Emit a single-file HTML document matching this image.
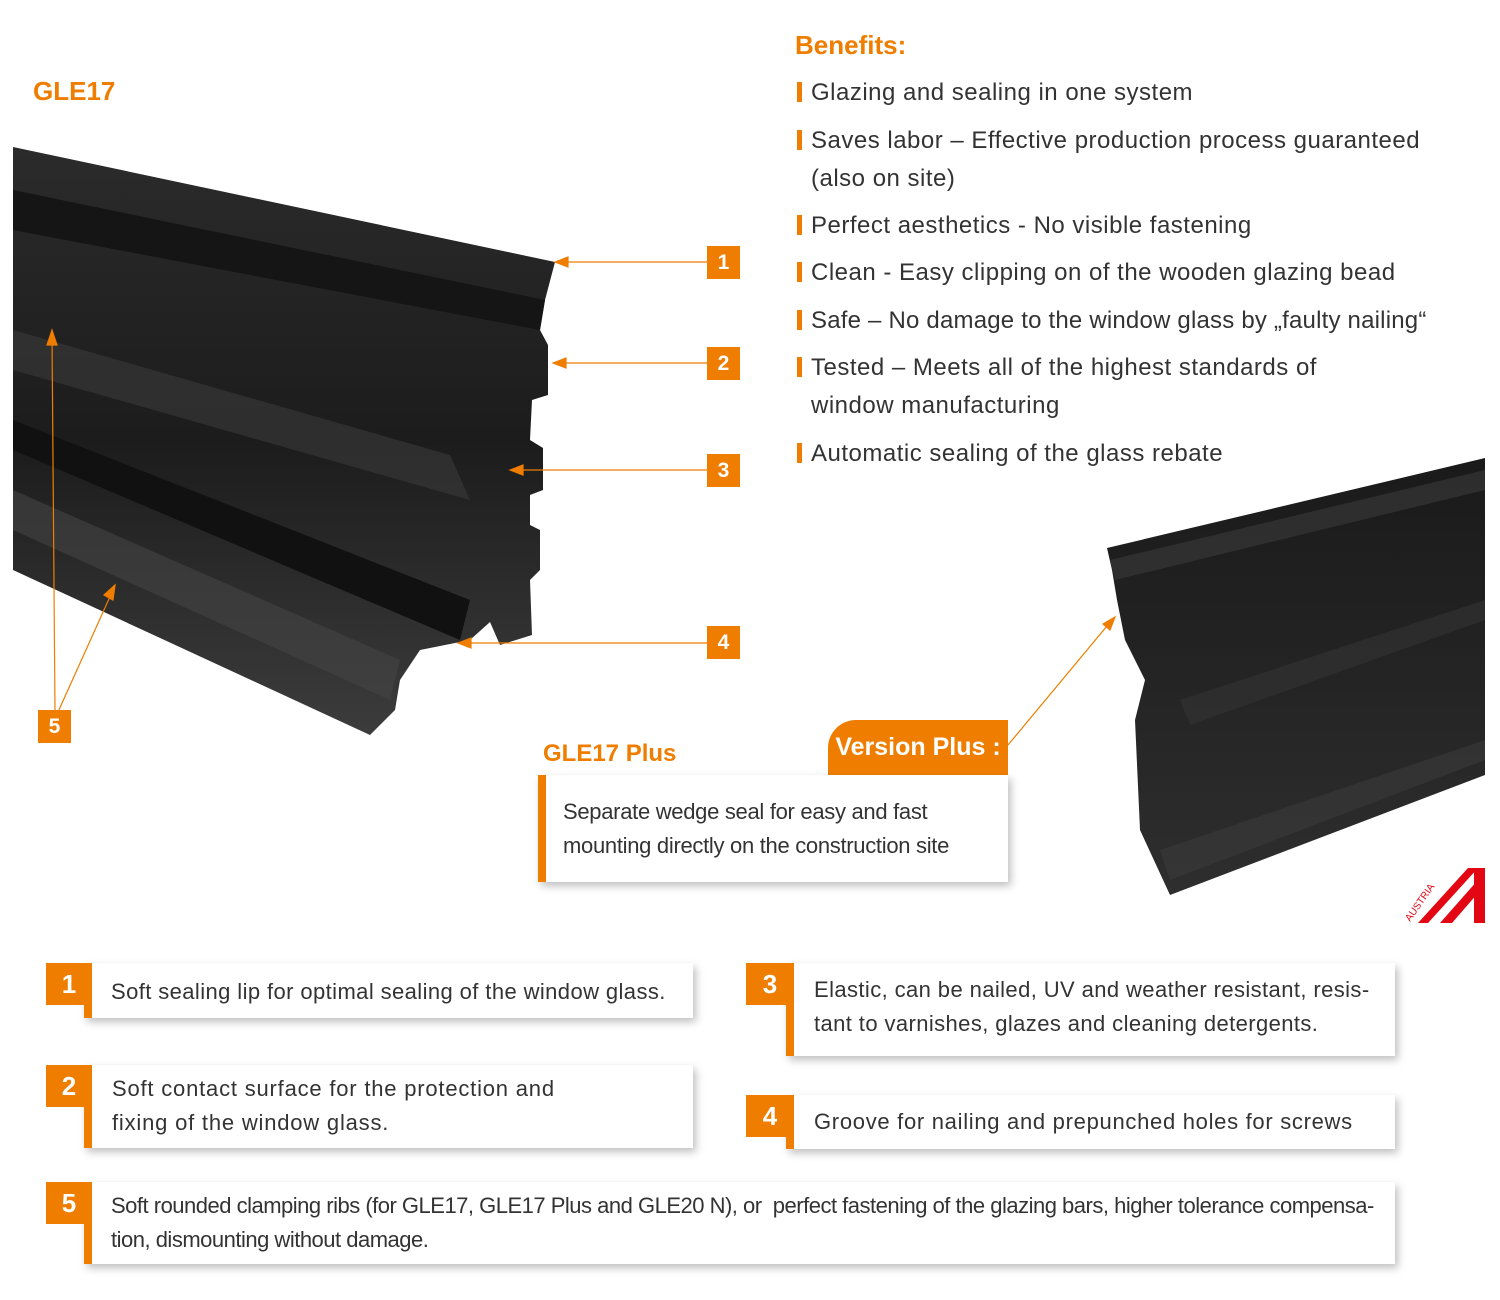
<!DOCTYPE html>
<html><head><meta charset="utf-8"><style>
body{margin:0;background:#fff;}
#p{position:relative;width:1500px;height:1300px;overflow:hidden;font-family:"Liberation Sans",sans-serif;color:#333;}
.t{position:absolute;white-space:nowrap;}
.or{color:#ef7d00;font-weight:bold;}
.ben{position:absolute;left:797px;font-size:24px;color:#333;letter-spacing:0.5px;line-height:38px;}
.ben:before{content:"";position:absolute;left:0;top:8px;width:5px;height:20px;background:#ef7d00;}
.ben span{margin-left:14px;display:block;}
.sq{position:absolute;width:33px;height:33px;background:#ef7d00;color:#fff;font-weight:bold;font-size:21px;text-align:center;line-height:33px;}
.box{position:absolute;background:#fff;box-shadow:3px 4px 8px rgba(0,0,0,.25);font-size:22px;color:#333;letter-spacing:0.4px;line-height:34px;white-space:nowrap;}
.bn{position:absolute;background:#ef7d00;color:#fff;font-weight:bold;font-size:26px;text-align:center;}
</style></head><body><div id="p">
<div class="t or" style="left:33px;top:76px;font-size:26px;">GLE17</div>
<div class="t or" style="left:795px;top:30px;font-size:26px;">Benefits:</div>
<div class="ben" style="top:74px"><span>Glazing and sealing in one system</span></div>
<div class="ben" style="top:122px"><span>Saves labor – Effective production process guaranteed<br>(also on site)</span></div>
<div class="ben" style="top:207px"><span>Perfect aesthetics - No visible fastening</span></div>
<div class="ben" style="top:254px"><span>Clean - Easy clipping on of the wooden glazing bead</span></div>
<div class="ben" style="top:302px;letter-spacing:0.2px"><span>Safe – No damage to the window glass by „faulty nailing“</span></div>
<div class="ben" style="top:349px"><span>Tested – Meets all of the highest standards of<br>window manufacturing</span></div>
<div class="ben" style="top:435px"><span>Automatic sealing of the glass rebate</span></div>

<svg width="1500" height="1300" style="position:absolute;left:0;top:0">
<defs>
<linearGradient id="g1" x1="0" y1="0" x2="0" y2="1"><stop offset="0" stop-color="#2b2b2b"/><stop offset=".5" stop-color="#1c1c1c"/><stop offset="1" stop-color="#3c3c3c"/></linearGradient>
<linearGradient id="g2" x1="0" y1="0" x2="0" y2="1"><stop offset="0" stop-color="#1a1a1a"/><stop offset="1" stop-color="#2e2e2e"/></linearGradient>
</defs>
<polygon fill="url(#g1)" points="13,147 555,262 545,300 540,330 548,345 548,395 532,400 530,440 543,448 543,490 530,495 530,525 540,530 540,570 530,580 532,635 500,645 490,622 470,640 420,650 400,680 395,710 370,735 13,570"/>
<polygon fill="#151515" points="13,190 545,300 540,330 13,230"/>
<polygon fill="#3a3a3a" opacity=".6" points="13,330 450,455 470,500 13,370"/>
<polygon fill="#444" opacity=".6" points="13,490 400,660 390,700 13,530"/>
<polygon fill="#111" points="13,420 470,600 460,640 13,450"/>
<polygon fill="url(#g2)" points="1107,548 1485,458 1485,775 1170,895 1140,830 1135,720 1145,680 1125,640 1117,600 1112,570"/>
<polygon fill="#3a3a3a" opacity=".6" points="1110,560 1485,470 1485,490 1115,580"/>
<polygon fill="#333" opacity=".6" points="1180,700 1485,600 1485,620 1190,725"/>
<polygon fill="#3a3a3a" opacity=".6" points="1160,850 1485,740 1485,760 1170,880"/>
<g stroke="#ef7d00" stroke-width="1.2" fill="#ef7d00">
<line x1="707" y1="262" x2="560" y2="262"/><polygon points="555,262 568,257 568,267"/>
<line x1="707" y1="363" x2="558" y2="363"/><polygon points="553,363 566,358 566,368"/>
<line x1="707" y1="470" x2="515" y2="470"/><polygon points="510,470 523,465 523,475"/>
<line x1="707" y1="643" x2="463" y2="643"/><polygon points="458,643 471,638 471,648"/>
<line x1="55" y1="712" x2="52" y2="335"/><polygon points="52,330 47,345 57,345"/>
<line x1="58" y1="712" x2="113" y2="590"/><polygon points="115,585 104,595 113,600"/>
<line x1="1008" y1="745" x2="1112" y2="620"/><polygon points="1115,617 1103,624 1110,630"/>
</g>
<g fill="#e30613">
<polygon points="1418,923 1468,868 1478,868 1428,923"/>
<polygon points="1440,923 1478,880 1478,893 1452,923"/>
<rect x="1474" y="868" width="11" height="55"/>
</g>
<text x="1410" y="922" font-size="10" fill="#e30613" transform="rotate(-55 1410 922)" font-family="Liberation Sans">AUSTRIA</text>
</svg>

<div class="sq" style="left:707px;top:246px">1</div>
<div class="sq" style="left:707px;top:347px">2</div>
<div class="sq" style="left:707px;top:454px">3</div>
<div class="sq" style="left:707px;top:626px">4</div>
<div class="sq" style="left:38px;top:710px">5</div>

<div class="t or" style="left:543px;top:740px;font-size:24px;">GLE17 Plus</div>
<div style="position:absolute;left:828px;top:720px;width:180px;height:55px;background:#ef7d00;border-top-left-radius:28px;color:#fff;font-weight:bold;font-size:25px;line-height:55px;text-align:center;">Version Plus :</div>
<div class="box" style="left:538px;top:775px;width:470px;height:107px;letter-spacing:-0.3px"><div style="position:absolute;left:0;top:0;width:8px;height:107px;background:#ef7d00"></div><div style="position:absolute;left:25px;top:20px;">Separate wedge seal for easy and fast<br>mounting directly on the construction site</div></div>

<div class="box" style="left:84px;top:963px;width:609px;height:55px;"><div style="position:absolute;left:27px;top:12px;">Soft sealing lip for optimal sealing of the window glass.</div></div>
<div class="bn" style="left:46px;top:963px;width:46px;height:42px;line-height:42px;">1</div><div class="bn" style="left:84px;top:1005px;width:8px;height:13px"></div>

<div class="box" style="left:84px;top:1065px;width:609px;height:83px;letter-spacing:0.8px"><div style="position:absolute;left:28px;top:7px;">Soft contact surface for the protection and<br>fixing of the window glass.</div></div>
<div class="bn" style="left:46px;top:1065px;width:46px;height:42px;line-height:42px;">2</div><div class="bn" style="left:84px;top:1107px;width:8px;height:41px"></div>

<div class="box" style="left:786px;top:963px;width:609px;height:93px;"><div style="position:absolute;left:28px;top:10px;">Elastic, can be nailed, UV and weather resistant, resis-<br>tant to varnishes, glazes and cleaning detergents.</div></div>
<div class="bn" style="left:746px;top:963px;width:48px;height:42px;line-height:42px;">3</div><div class="bn" style="left:786px;top:1005px;width:8px;height:51px"></div>

<div class="box" style="left:786px;top:1095px;width:609px;height:54px;letter-spacing:0.7px"><div style="position:absolute;left:28px;top:10px;">Groove for nailing and prepunched holes for screws</div></div>
<div class="bn" style="left:746px;top:1095px;width:48px;height:42px;line-height:42px;">4</div><div class="bn" style="left:786px;top:1137px;width:8px;height:12px"></div>

<div class="box" style="left:84px;top:1182px;width:1311px;height:82px;letter-spacing:-0.5px"><div style="position:absolute;left:27px;top:7px;">Soft rounded clamping ribs (for GLE17, GLE17 Plus and GLE20 N), or&nbsp; perfect fastening of the glazing bars, higher tolerance compensa-<br>tion, dismounting without damage.</div></div>
<div class="bn" style="left:46px;top:1182px;width:46px;height:42px;line-height:42px;">5</div><div class="bn" style="left:84px;top:1224px;width:8px;height:40px"></div>
</div></body></html>
